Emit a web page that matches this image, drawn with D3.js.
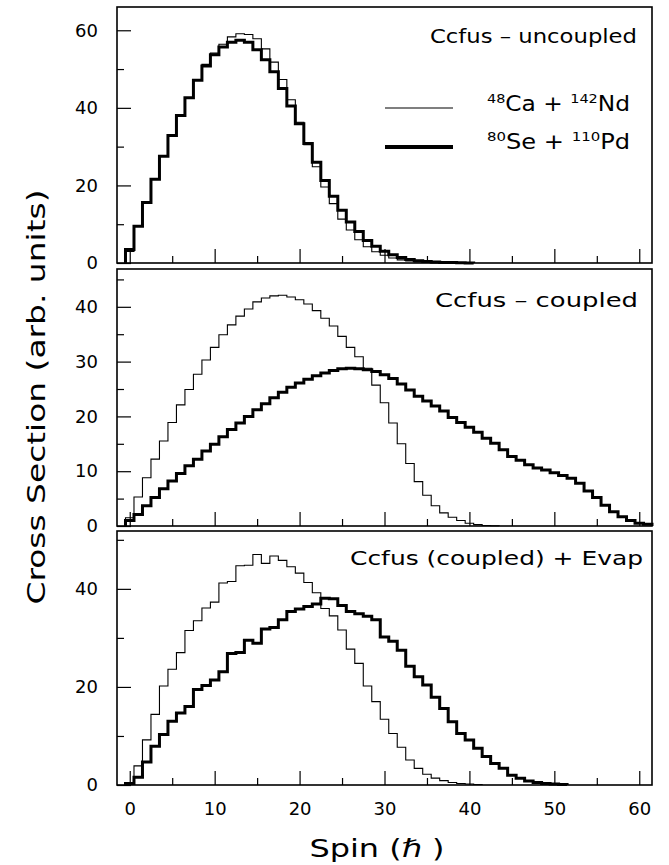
<!DOCTYPE html>
<html>
<head>
<meta charset="utf-8">
<script src="https://cdn.jsdelivr.net/npm/d3@7"></script>
<style>
  body { margin: 0; background: #fff; }
  svg { display: block; }
  text { font-family: "DejaVu Sans", sans-serif; fill: #000; }
</style>
</head>
<body>
<svg id="chart" width="669" height="865"></svg>
<script>
// bin i is centred on spin i (width 1 hbar)
const uncoupledCaNd = [3.0, 9.5, 15.6, 21.6, 27.5, 32.9, 38.0, 42.6, 47.3, 51.2, 54.1, 56.4, 58.3, 59.1, 58.9, 57.8, 55.2, 51.8, 47.3, 42.1,
  36.3, 30.5, 24.8, 19.6, 15.3, 11.3, 8.5, 6.0, 4.2, 2.9, 2.0, 1.3, 0.8, 0.5, 0.3, 0.2, 0.1, 0.05];
const uncoupledSePd = [3.5, 9.5, 15.6, 21.6, 27.5, 32.9, 38.0, 42.6, 47.1, 50.8, 53.7, 55.7, 56.9, 57.4, 56.9, 55.0, 52.4, 49.3, 45.0, 40.5,
  35.9, 30.8, 26.0, 21.3, 17.2, 13.6, 10.6, 8.1, 5.8, 4.3, 3.0, 2.1, 1.4, 0.9, 0.6, 0.4, 0.25, 0.15, 0.1, 0.05, 0.03];

const coupledCaNd = [1.5, 5.3, 8.8, 12.2, 15.5, 18.9, 22.1, 24.9, 27.7, 30.3, 32.6, 34.9, 36.7, 38.3, 39.6, 40.9, 41.6, 42.0, 42.1, 41.8,
  41.3, 40.5, 39.3, 37.9, 36.5, 34.6, 32.6, 30.9, 28.8, 25.7, 22.5, 18.8, 15.0, 11.4, 8.1, 5.6, 3.7, 2.4, 1.6, 1.0,
  0.5, 0.25, 0.1, 0.05];
const coupledSePd = [1.0, 2.1, 3.7, 5.2, 6.8, 8.2, 9.6, 11.0, 12.2, 13.7, 14.9, 16.3, 17.6, 18.8, 20.0, 21.2, 22.3, 23.4, 24.4, 25.3,
  26.1, 26.8, 27.4, 27.9, 28.4, 28.7, 28.8, 28.7, 28.5, 28.2, 27.6, 26.9, 25.9, 24.8, 23.7, 22.8, 21.9, 21.0, 19.8, 18.9,
  18.0, 17.1, 16.0, 15.1, 13.9, 12.7, 12.0, 11.2, 10.6, 10.2, 9.7, 9.2, 8.7, 7.8, 6.4, 5.2, 3.8, 2.6, 1.7, 1.0,
  0.5, 0.3];

const evapCaNd = [0.5, 3.9, 9.2, 14.4, 20.2, 23.6, 27.0, 31.5, 33.5, 36.1, 37.3, 41.2, 41.5, 44.7, 44.8, 47.0, 45.2, 46.7, 45.8, 44.5,
  43.2, 41.3, 39.2, 36.0, 34.5, 31.6, 27.7, 24.8, 20.2, 17.0, 13.4, 10.5, 7.7, 5.1, 3.4, 2.2, 1.4, 0.9, 0.5, 0.3,
  0.2, 0.1];
const evapSePd = [0.3, 1.6, 4.7, 7.9, 10.3, 13.0, 14.7, 16.0, 19.5, 20.3, 21.4, 23.1, 26.8, 27.0, 29.5, 28.9, 31.8, 32.1, 33.7, 35.4,
  35.9, 36.4, 36.9, 38.1, 38.0, 36.6, 35.4, 34.9, 34.4, 33.7, 30.2, 29.3, 27.5, 24.2, 22.1, 20.4, 17.9, 15.6, 12.9, 10.5,
  9.2, 7.5, 5.8, 4.4, 3.4, 2.0, 1.4, 0.8, 0.5, 0.3, 0.2, 0.1];

const spinMajorTicks = [0, 10, 20, 30, 40, 50, 60];
const spinMinorTicks = [5, 15, 25, 35, 45, 55];
const topMajorTicks = [0, 20, 40, 60], topMinorTicks = [10, 30, 50];
const midMajorTicks = [0, 10, 20, 30, 40], midMinorTicks = [5, 15, 25, 35, 45];
const botMajorTicks = [0, 20, 40], botMinorTicks = [10, 30, 50];

const panelTitles = ["Ccfus \u2013 uncoupled", "Ccfus \u2013 coupled", "Ccfus (coupled) + Evap"];

const svg = d3.select("#chart");
const left = 117, right = 652;

const x = d3.scaleLinear().domain([-1.5, 61.5]).range([left, right]);

const panels = [
  {top: 7, bottom: 263, yMax: 66, major: topMajorTicks, minor: topMinorTicks, series: [uncoupledCaNd, uncoupledSePd],
   title: {text: panelTitles[0], x: 637, y: 43, len: 207}},
  {top: 269, bottom: 526, yMax: 46.9, major: midMajorTicks, minor: midMinorTicks, series: [coupledCaNd, coupledSePd],
   title: {text: panelTitles[1], x: 638, y: 307, len: 203}},
  {top: 531, bottom: 785, yMax: 51.8, major: botMajorTicks, minor: botMinorTicks, series: [evapCaNd, evapSePd],
   title: {text: panelTitles[2], x: 643, y: 565, len: 293}}
];

function histPoints(vals) {
  let pts = [[-0.5, 0]];
  vals.forEach(function (v, i) { pts.push([i - 0.5, v]); });
  pts.push([vals.length - 0.5, vals[vals.length - 1]]);
  pts.push([vals.length - 0.5, 0]);
  return pts;
}

panels.forEach(function (p, idx) {
  const y = d3.scaleLinear().domain([0, p.yMax]).range([p.bottom, p.top]);
  const g = svg.append("g");
  const isLast = idx === panels.length - 1;

  // histograms
  p.series.forEach(function (vals, si) {
    const line = d3.line()
      .x(function (d) { return x(d[0]); })
      .y(function (d) { return y(d[1]); })
      .curve(d3.curveStepAfter);
    g.append("path")
      .attr("d", line(histPoints(vals)))
      .attr("fill", "none")
      .attr("stroke", "#000")
      .attr("stroke-width", si === 0 ? 1.1 : 3)
      .attr("stroke-linejoin", "miter");
  });

  // left axis, ticks inside
  const yMajor = g.append("g")
    .attr("transform", "translate(" + left + ",0)")
    .call(d3.axisLeft(y).tickValues(p.major).tickSizeInner(-14).tickSizeOuter(0).tickPadding(19).tickFormat(d3.format("d")));
  const yMinor = g.append("g")
    .attr("transform", "translate(" + left + ",0)")
    .call(d3.axisLeft(y).tickValues(p.minor).tickSizeInner(-7).tickSizeOuter(0).tickFormat(""));

  // bottom axis, ticks inside
  const xMajor = g.append("g")
    .attr("transform", "translate(0," + p.bottom + ")")
    .call(d3.axisBottom(x).tickValues(spinMajorTicks).tickSizeInner(-14).tickSizeOuter(0).tickPadding(10)
      .tickFormat(isLast ? d3.format("d") : ""));
  const xMinor = g.append("g")
    .attr("transform", "translate(0," + p.bottom + ")")
    .call(d3.axisBottom(x).tickValues(spinMinorTicks).tickSizeInner(-7).tickSizeOuter(0).tickFormat(""));

  [yMajor, yMinor, xMajor, xMinor].forEach(function (a) {
    a.select(".domain").remove();
    a.selectAll(".tick line").attr("stroke", "#000").attr("stroke-width", 1.2);
    a.selectAll("text").attr("font-size", 18).attr("font-family", "DejaVu Sans, sans-serif").attr("fill", "#000");
  });
  xMajor.selectAll("text").attr("dy", "1.1em");

  // frame
  g.append("rect")
    .attr("x", left).attr("y", p.top)
    .attr("width", right - left).attr("height", p.bottom - p.top)
    .attr("fill", "none").attr("stroke", "#000").attr("stroke-width", 1.6);

  // panel title
  g.append("text")
    .attr("x", p.title.x - p.title.len).attr("y", p.title.y)
    .attr("font-size", 20)
    .attr("textLength", p.title.len).attr("lengthAdjust", "spacingAndGlyphs")
    .text(p.title.text);
});

// legend
const legend = svg.append("g");
legend.append("line").attr("x1", 385).attr("x2", 453).attr("y1", 108).attr("y2", 108)
  .attr("stroke", "#000").attr("stroke-width", 1.1);
legend.append("line").attr("x1", 385).attr("x2", 453).attr("y1", 147).attr("y2", 147)
  .attr("stroke", "#000").attr("stroke-width", 4);

function isotopeLabel(yPos, parts) {
  const t = legend.append("text").attr("x", 487).attr("y", yPos).attr("font-size", 21)
    .attr("textLength", 143).attr("lengthAdjust", "spacingAndGlyphs");
  parts.forEach(function (s) {
    t.append("tspan")
      .attr("font-size", s.sup ? 13 : 21)
      .attr("dy", s.sup ? -8 : 8)
      .text(s.t);
  });
  t.select("tspan").attr("dy", -8);
}
isotopeLabel(111, [{t: "48", sup: true}, {t: "Ca + "}, {t: "142", sup: true}, {t: "Nd"}]);
isotopeLabel(149, [{t: "80", sup: true}, {t: "Se + "}, {t: "110", sup: true}, {t: "Pd"}]);

// axis titles
svg.append("text")
  .attr("x", 377).attr("y", 857)
  .attr("text-anchor", "middle")
  .attr("font-size", 25)
  .attr("textLength", 135).attr("lengthAdjust", "spacingAndGlyphs")
  .text("Spin (\u210F )");

svg.append("text")
  .attr("transform", "translate(45,397) rotate(-90)")
  .attr("text-anchor", "middle")
  .attr("font-size", 25)
  .attr("textLength", 415).attr("lengthAdjust", "spacingAndGlyphs")
  .text("Cross Section (arb. units)");
</script>
</body>
</html>
